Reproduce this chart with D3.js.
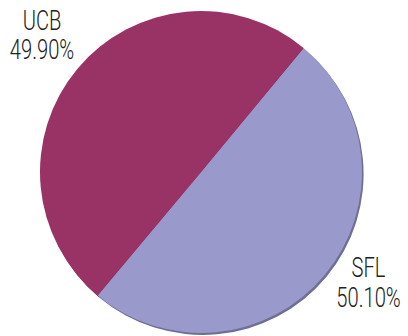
<!DOCTYPE html>
<html>
<head>
<meta charset="utf-8">
<script src="https://cdn.jsdelivr.net/npm/d3@7"></script>
<style>
  html, body { margin: 0; padding: 0; background: #fff; }
  svg { display: block; }
</style>
</head>
<body>
<svg id="chart" width="408" height="336"></svg>
<script>
// Share of each group
const categories = ["SFL", "UCB"];
const shares = [50.10, 49.90];
const colors = ["#9999cc", "#993366"];

const svg = d3.select("#chart");
const cx = 201, cy = 172, radius = 161;
const startDeg = 39.6;

const pie = d3.pie()
  .sort(null)
  .value(d => d.value)
  .startAngle(startDeg * Math.PI / 180)
  .endAngle(startDeg * Math.PI / 180 + 2 * Math.PI);

const data = categories.map((c, i) => ({ name: c, value: shares[i], color: colors[i] }));
const arcs = pie(data);
const arc = d3.arc().innerRadius(0).outerRadius(radius);

// darker rim offset below the slices
svg.append("g")
  .attr("transform", `translate(${cx + 1.6},${cy + 2})`)
  .selectAll("path")
  .data(arcs)
  .join("path")
  .attr("d", arc)
  .attr("fill", d => d3.color(d.data.color).darker(0.9));

svg.append("g")
  .attr("transform", `translate(${cx},${cy})`)
  .selectAll("path")
  .data(arcs)
  .join("path")
  .attr("d", arc)
  .attr("fill", d => d.data.color);

// labels: name above percentage
const labelPos = { UCB: [42, 29.5], SFL: [368.5, 277] };
const fmt = v => v.toFixed(2) + "%";
const labels = svg.append("g")
  .attr("font-family", "Roboto, 'Liberation Sans Narrow', sans-serif")
  .attr("font-size", 28)
  .attr("font-weight", 300)
  .attr("fill", "#222");

data.forEach(d => {
  const [x, y] = labelPos[d.name];
  const g = labels.append("g")
    .attr("transform", `translate(${x},${y}) scale(0.72,1)`);
  g.append("text").attr("text-anchor", "middle").attr("y", 0).text(d.name);
  g.append("text").attr("text-anchor", "middle").attr("y", 30).text(fmt(d.value));
});
</script>
</body>
</html>
